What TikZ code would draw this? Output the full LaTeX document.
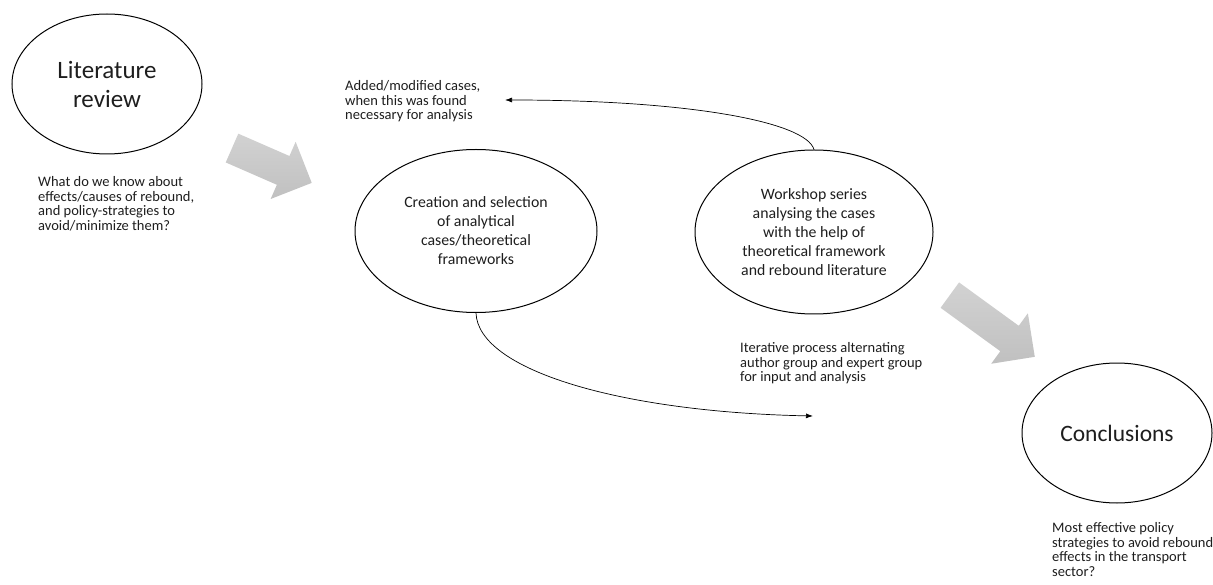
\documentclass[tikz,border=0pt]{standalone}
\usepackage{fontspec}
\setmainfont{Carlito}
\usetikzlibrary{arrows.meta, shapes.geometric, shapes.arrows}
\definecolor{ink}{RGB}{30,30,30}
\definecolor{arrowtop}{RGB}{210,210,210}
\definecolor{arrowbot}{RGB}{192,192,192}

\begin{document}
\begin{tikzpicture}[x=1pt, y=-1pt, text=ink,
      stage/.style={draw, ellipse, line width=1pt, align=center, inner sep=0pt},
      note/.style={anchor=north west, inner sep=0pt, align=left, font=\fontsize{14.5}{14.8}\selectfont},
      bigarrow/.style={single arrow, top color=arrowtop, bottom color=arrowbot, minimum width=62pt,
        inner sep=15.5pt, single arrow head extend=15.5pt, anchor=tip},
      feedback/.style={->, line width=0.7pt},
      >={Latex[length=7pt, width=5pt]}]
    \useasboundingbox (0,0) rectangle (1213,585);
    % stages
    \node[stage, minimum width=190pt, minimum height=140pt, font=\fontsize{25}{29}\selectfont] (lit) at (107,84) {Literature\\review};
    \node[stage, minimum width=242pt, minimum height=163pt, font=\fontsize{15.8}{19}\selectfont] (make) at (476,231) {Creation and selection\\of analytical\\cases/theoretical\\frameworks};
    \node[stage, minimum width=238pt, minimum height=164pt, font=\fontsize{15.8}{19}\selectfont] (work) at (814,232) {Workshop series\\analysing the cases\\with the help of\\theoretical framework\\and rebound literature};
    \node[stage, minimum width=190pt, minimum height=140pt, font=\fontsize{23.5}{28}\selectfont] (concl) at (1117,433) {Conclusions};
    % notes
    \node[note] (known) at (38,176) {What do we know about\\effects/causes of rebound,\\and policy-strategies to\\avoid/minimize them?};
    \node[note] (added) at (345,80) {Added/modified cases,\\when this was found\\necessary for analysis};
    \node[note] (iter) at (740,342) {Iterative process alternating\\author group and expert group\\for input and analysis};
    \node[note] (best) at (1052,522) {Most effective policy\\strategies to avoid rebound\\effects in the transport\\sector?};
    % big grey arrows
    \node[bigarrow, minimum height=87pt, rotate=-23.6] (push1) at (312,183) {};
    \node[bigarrow, minimum height=105pt, rotate=-36] (push2) at (1035,357) {};
    % loop between the two middle stages
    \coordinate (back) at (505,100);
    \coordinate (fwd) at (813,416);
    \draw[feedback] (work.north) .. controls (806,122) and (690,100) .. (back);
    \draw[feedback] (make.south) .. controls (478,370) and (620,412) .. (fwd);
\end{tikzpicture}
\end{document}
